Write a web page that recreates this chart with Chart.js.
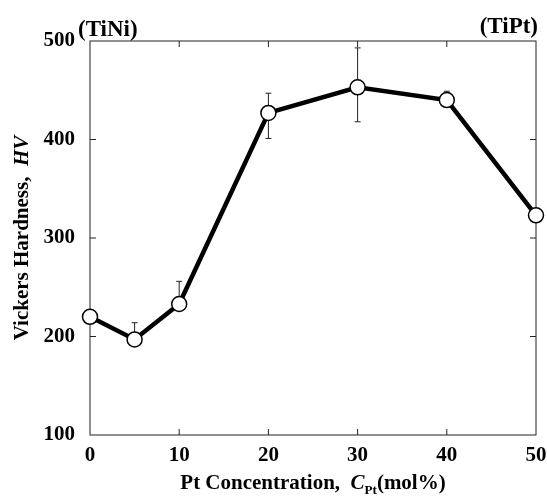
<!DOCTYPE html>
<html>
<head>
<meta charset="utf-8">
<script src="https://cdn.jsdelivr.net/npm/chart.js@4.4.1/dist/chart.umd.min.js"></script>
<style>
  body { margin: 0; background: #fff; }
  #wrap { width: 547px; height: 497px; }
</style>
</head>
<body>
<div id="wrap"><canvas id="c" width="547" height="497"></canvas></div>
<script>
// data
const conc = [0, 5, 10, 20, 30, 40, 50]            // Pt concentration, mol%
const hardness = [220, 197, 233, 427, 453, 440, 323] // Vickers hardness HV
const errHigh = [null, 214, 256, 447, 493, 449, null]
const errLow = [null, null, null, 401, 418, null, null]
const xTicks = [0, 10, 20, 30, 40, 50]
const yTicks = [100, 200, 300, 400, 500]

const SERIF = "'Liberation Serif', 'Times New Roman', serif"

// draws a list of text runs one after another
function drawRuns(ctx, runs, x, y) {
    let cx = x
    runs.forEach(r => {
        ctx.font = r.font
        ctx.fillText(r.text, cx, y + (r.dy || 0))
        cx += ctx.measureText(r.text).width
    })
}
function runsWidth(ctx, runs) {
    let w = 0
    runs.forEach(r => { ctx.font = r.font; w += ctx.measureText(r.text).width })
    return w
}

const framePlugin = {
    id: 'frame',
    beforeDatasetsDraw(chart) {
        const ctx = chart.ctx
        const a = chart.chartArea
        const xs = chart.scales.x, ys = chart.scales.y
        ctx.save()
        ctx.strokeStyle = '#222'
        ctx.lineWidth = 1
        ctx.strokeRect(a.left, a.top, a.right - a.left, a.bottom - a.top)
        // inward ticks
        ctx.beginPath()
        xTicks.slice(1, -1).forEach(v => {
            const px = xs.getPixelForValue(v)
            ctx.moveTo(px, a.bottom); ctx.lineTo(px, a.bottom - 6)
            ctx.moveTo(px, a.top); ctx.lineTo(px, a.top + 6)
        })
        yTicks.slice(1, -1).forEach(v => {
            const py = ys.getPixelForValue(v)
            ctx.moveTo(a.left, py); ctx.lineTo(a.left + 6, py)
            ctx.moveTo(a.right, py); ctx.lineTo(a.right - 6, py)
        })
        ctx.stroke()

        // error bars
        ctx.beginPath()
        conc.forEach((c, i) => {
            const px = xs.getPixelForValue(c)
            const py = ys.getPixelForValue(hardness[i])
            if (errHigh[i] != null) {
                const t = ys.getPixelForValue(errHigh[i])
                ctx.moveTo(px, py); ctx.lineTo(px, t)
                ctx.moveTo(px - 3, t); ctx.lineTo(px + 3, t)
            }
            if (errLow[i] != null) {
                const b = ys.getPixelForValue(errLow[i])
                ctx.moveTo(px, py); ctx.lineTo(px, b)
                ctx.moveTo(px - 3, b); ctx.lineTo(px + 3, b)
            }
        })
        ctx.stroke()
        ctx.restore()
    },
    afterDraw(chart) {
        const ctx = chart.ctx
        const a = chart.chartArea
        ctx.save()
        ctx.fillStyle = '#000'
        ctx.textBaseline = 'alphabetic'

        // end member labels
        ctx.font = 'bold 23px ' + SERIF
        ctx.textAlign = 'left'
        ctx.fillText('(TiNi)', 78, 36)
        ctx.textAlign = 'right'
        ctx.fillText('(TiPt)', 538, 33)
        ctx.textAlign = 'left'

        // x title
        const xr = [
            { text: 'Pt Concentration,  ', font: 'bold 21px ' + SERIF },
            { text: 'C', font: 'italic bold 21px ' + SERIF },
            { text: 'Pt', font: 'bold 13px ' + SERIF, dy: 5 },
            { text: '(mol%)', font: 'bold 21px ' + SERIF }
        ]
        const xw = runsWidth(ctx, xr)
        drawRuns(ctx, xr, (a.left + a.right) / 2 - xw / 2, 489)

        // y title
        const yr = [
            { text: 'Vickers Hardness,  ', font: 'bold 21px ' + SERIF },
            { text: 'HV', font: 'italic bold 21px ' + SERIF }
        ]
        const yw = runsWidth(ctx, yr)
        ctx.translate(28, (a.top + a.bottom) / 2)
        ctx.rotate(-Math.PI / 2)
        drawRuns(ctx, yr, -yw / 2, 0)
        ctx.restore()
    }
}

window.onload = function() {
    const points = conc.map((c, i) => ({ x: c, y: hardness[i] }))

    new Chart(document.getElementById('c'), {
        type: 'line',
        data: {
            datasets: [{
                data: points,
                borderColor: '#000',
                borderWidth: 4.5,
                tension: 0,
                pointRadius: 7.5,
                pointBackgroundColor: '#fff',
                pointBorderColor: '#000',
                pointBorderWidth: 1.5,
                clip: false
            }]
        },
        options: {
            responsive: false,
            animation: false,
            layout: { padding: { top: 41, right: 11, left: 0, bottom: 0 } },
            plugins: { legend: { display: false }, tooltip: { enabled: false } },
            scales: {
                x: {
                    type: 'linear', min: 0, max: 50,
                    afterBuildTicks: s => { s.ticks = xTicks.map(v => ({ value: v })) },
                    afterFit: s => { s.height = 62; s.paddingLeft = 0; s.paddingRight = 0 },
                    grid: { display: false, drawTicks: false },
                    border: { display: false },
                    ticks: { color: '#000', padding: 8, maxRotation: 0,
                             font: { family: SERIF, size: 21, weight: 'bold' } }
                },
                y: {
                    type: 'linear', min: 100, max: 500,
                    afterBuildTicks: s => { s.ticks = yTicks.map(v => ({ value: v })) },
                    afterFit: s => { s.width = 90; s.paddingTop = 0; s.paddingBottom = 0 },
                    grid: { display: false, drawTicks: false },
                    border: { display: false },
                    ticks: { color: '#000', padding: 15,
                             font: { family: SERIF, size: 21, weight: 'bold' } }
                }
            }
        },
        plugins: [framePlugin]
    })
}
</script>
</body>
</html>
